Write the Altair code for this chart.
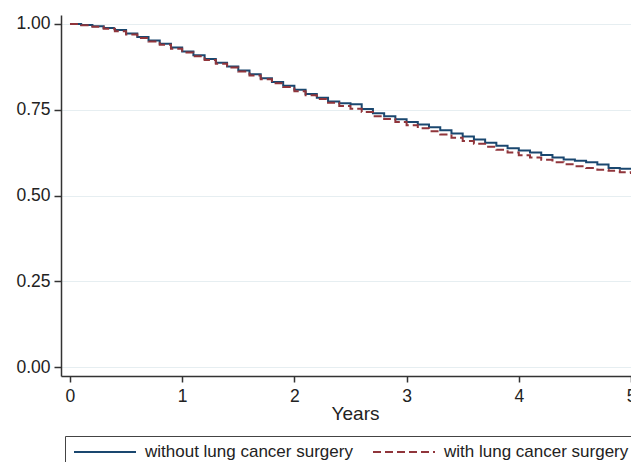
import altair as alt
import pandas as pd

years = [round(i * 0.1, 1) for i in range(51)]

without_surgery = [
    1.000, 0.997, 0.993, 0.988, 0.982, 0.972, 0.962, 0.952, 0.942, 0.931,
    0.920, 0.909, 0.898, 0.887, 0.876, 0.864, 0.853, 0.842, 0.831, 0.820,
    0.808, 0.796, 0.785, 0.774, 0.769, 0.766, 0.752, 0.740, 0.731, 0.722,
    0.714, 0.707, 0.699, 0.690, 0.681, 0.672, 0.663, 0.654, 0.645, 0.638,
    0.631, 0.625, 0.618, 0.611, 0.605, 0.601, 0.597, 0.590, 0.580, 0.578,
    0.576,
]

with_surgery = [
    1.000, 0.996, 0.992, 0.986, 0.979, 0.969, 0.959, 0.949, 0.939, 0.928,
    0.917, 0.906, 0.895, 0.884, 0.873, 0.861, 0.850, 0.839, 0.827, 0.816,
    0.804, 0.792, 0.781, 0.770, 0.761, 0.753, 0.743, 0.731, 0.723, 0.714,
    0.705, 0.696, 0.687, 0.678, 0.668, 0.659, 0.651, 0.642, 0.633, 0.625,
    0.617, 0.611, 0.604, 0.597, 0.591, 0.585, 0.580, 0.575, 0.572, 0.568,
    0.563,
]

groups = ["without lung cancer surgery", "with lung cancer surgery"]
colors = ["#1a476f", "#90353b"]
dashes = [[1, 0], [8, 4]]

y_ticks = [0, 0.25, 0.5, 0.75, 1.0]
x_ticks = [0, 1, 2, 3, 4, 5]

rows = []
for yv, a, b in zip(years, without_surgery, with_surgery):
    rows.append({"year": yv, "surv": a, "group": groups[0]})
    rows.append({"year": yv, "surv": b, "group": groups[1]})
df = pd.DataFrame(rows)

FONT = "Arial, Liberation Sans, sans-serif"

legend = alt.Legend(
    orient="none",
    legendX=4,
    legendY=421,
    direction="horizontal",
    title=None,
    symbolType="M-3.1,0H3.1",
    symbolSize=400,
    symbolStrokeWidth=2,
    symbolOffset=24,
    labelOffset=29,
    labelLimit=0,
    labelFont=FONT,
    labelFontSize=17,
    labelColor="#222222",
    strokeColor="#444444",
    fillColor="white",
    padding=5,
    columnPadding=16,
)

chart = (
    alt.Chart(df)
    .mark_line(interpolate="step-after", strokeWidth=2, clip=True)
    .encode(
        x=alt.X(
            "year:Q",
            scale=alt.Scale(domain=[-0.08, 5.0], nice=False, zero=False),
            axis=alt.Axis(
                values=x_ticks,
                format="d",
                title="Years",
                grid=False,
                labelFlush=False,
                tickSize=6,
                labelPadding=5,
                titleX=294,
                titleY=28,
                titleAnchor="middle",
                titleFontSize=19,
                titleFontWeight="normal",
            ),
        ),
        y=alt.Y(
            "surv:Q",
            scale=alt.Scale(domain=[-0.026, 1.026], nice=False, zero=False),
            axis=alt.Axis(
                values=y_ticks,
                format=".2f",
                title=None,
                grid=True,
                gridColor="#e6eef1",
                gridWidth=1,
                tickSize=7,
                labelPadding=4,
            ),
        ),
        color=alt.Color(
            "group:N",
            scale=alt.Scale(domain=groups, range=colors),
            legend=legend,
            sort=groups,
        ),
        strokeDash=alt.StrokeDash(
            "group:N",
            scale=alt.Scale(domain=groups, range=dashes),
            legend=legend,
            sort=groups,
        ),
    )
    .properties(
        width=570,
        height=361,
        autosize=alt.AutoSizeParams(type="none"),
        padding={"left": 53, "top": 7, "right": 0, "bottom": 86},
    )
    .configure_view(stroke=None)
    .configure_axis(
        domainColor="#333333",
        domainWidth=1.5,
        tickColor="#333333",
        tickWidth=1.5,
        labelFont=FONT,
        labelFontSize=17.5,
        labelColor="#222222",
        titleFont=FONT,
        titleColor="#222222",
    )
)

chart.save("out.html", embed_options={"renderer": "svg", "actions": False})
